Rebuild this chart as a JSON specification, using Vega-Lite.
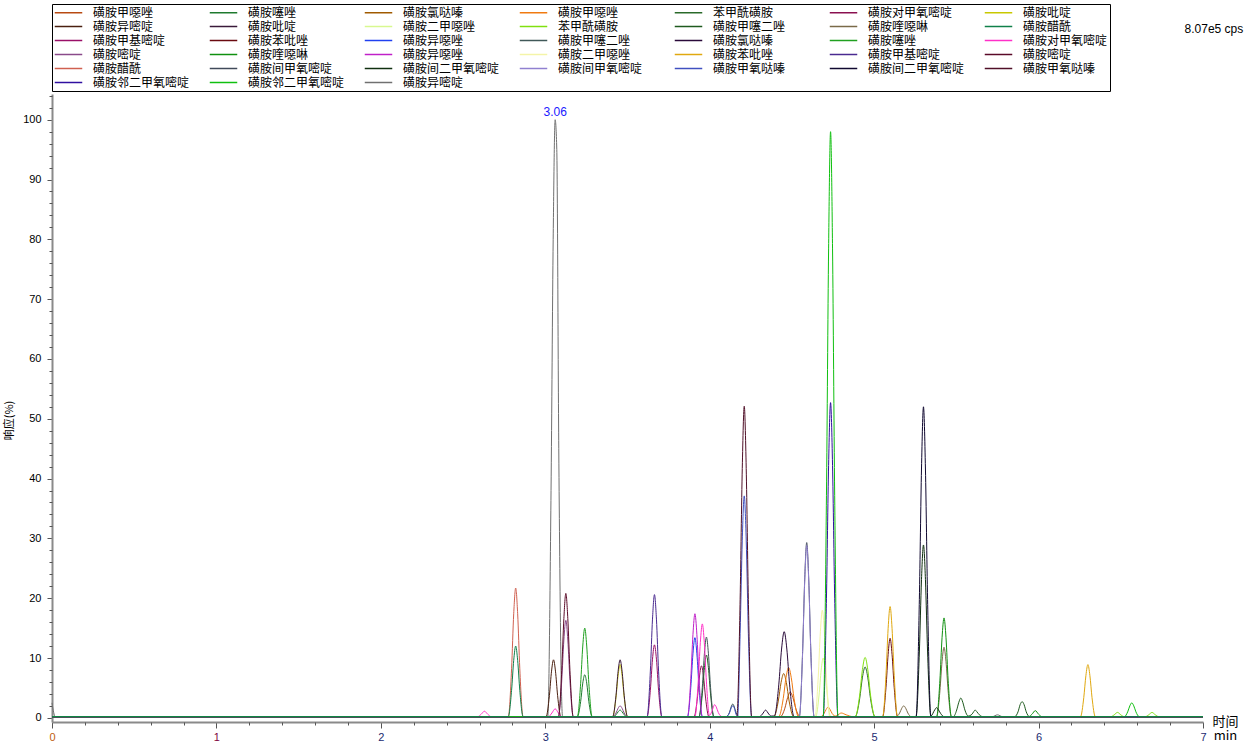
{
"$schema":"https://vega.github.io/schema/vega-lite/v6.json",
"width":1151,"height":628,
"autosize":{"type":"none"},
"padding":{"left":52,"top":94,"right":47,"bottom":25},
"background":"white",
"config":{"view":{"stroke":null},"font":"Liberation Sans"},
"resolve":{"axis":{"x":"independent","y":"independent"}},
"layer":[
{"data":{"values":[
{"s":"38","t":0,"v":2.5},{"s":"38","t":0.02,"v":0.2},{"s":"38","t":3.015,"v":0.2},{"s":"38","t":3.035,"v":38},{"s":"38","t":3.048,"v":80},{"s":"38","t":3.06,"v":100},{"s":"38","t":3.07,"v":95},{"s":"38","t":3.082,"v":45},{"s":"38","t":3.105,"v":0.2},{"s":"38","t":5.72,"v":0.2},{"s":"38","t":5.75,"v":0.5},{"s":"38","t":5.78,"v":0.2},{"s":"38","t":7,"v":0.2},
{"s":"01","t":0,"v":0.2},{"s":"01","t":4.43,"v":0.2},{"s":"01","t":4.457,"v":1.6},{"s":"01","t":4.474,"v":3.4},{"s":"01","t":4.49,"v":4.3},{"s":"01","t":4.506,"v":3.4},{"s":"01","t":4.523,"v":1.6},{"s":"01","t":4.55,"v":0.2},{"s":"01","t":7,"v":0.2},
{"s":"02","t":0,"v":0.2},{"s":"02","t":3.195,"v":0.2},{"s":"02","t":3.215,"v":2.7},{"s":"02","t":3.228,"v":5.8},{"s":"02","t":3.24,"v":7.2},{"s":"02","t":3.252,"v":5.8},{"s":"02","t":3.265,"v":2.7},{"s":"02","t":3.285,"v":0.2},{"s":"02","t":3.41,"v":0.2},{"s":"02","t":3.43,"v":0.5},{"s":"02","t":3.443,"v":1.0},{"s":"02","t":3.455,"v":1.3},{"s":"02","t":3.467,"v":1.0},{"s":"02","t":3.48,"v":0.5},{"s":"02","t":3.5,"v":0.2},{"s":"02","t":7,"v":0.2},
{"s":"03","t":0,"v":0.2},{"s":"03","t":4.39,"v":0.2},{"s":"03","t":4.417,"v":2.8},{"s":"03","t":4.434,"v":5.9},{"s":"03","t":4.45,"v":7.4},{"s":"03","t":4.466,"v":5.9},{"s":"03","t":4.483,"v":2.8},{"s":"03","t":4.51,"v":0.2},{"s":"03","t":7,"v":0.2},
{"s":"04","t":0,"v":0.2},{"s":"04","t":4.42,"v":0.2},{"s":"04","t":4.447,"v":3.2},{"s":"04","t":4.464,"v":6.7},{"s":"04","t":4.48,"v":8.4},{"s":"04","t":4.496,"v":6.7},{"s":"04","t":4.513,"v":3.2},{"s":"04","t":4.54,"v":0.2},{"s":"04","t":4.675,"v":0.2},{"s":"04","t":4.695,"v":0.7},{"s":"04","t":4.708,"v":1.4},{"s":"04","t":4.72,"v":1.8},{"s":"04","t":4.732,"v":1.4},{"s":"04","t":4.745,"v":0.7},{"s":"04","t":4.765,"v":0.3},{"s":"04","t":4.78,"v":0.5},{"s":"04","t":4.8,"v":0.8},{"s":"04","t":4.83,"v":0.5},{"s":"04","t":4.87,"v":0.2},{"s":"04","t":7,"v":0.2},
{"s":"05","t":0,"v":0.2},{"s":"05","t":4.885,"v":0.2},{"s":"05","t":4.912,"v":3.2},{"s":"05","t":4.929,"v":6.8},{"s":"05","t":4.945,"v":8.5},{"s":"05","t":4.961,"v":6.8},{"s":"05","t":4.978,"v":3.2},{"s":"05","t":5.005,"v":0.2},{"s":"05","t":7,"v":0.2},
{"s":"06","t":0,"v":0.2},{"s":"06","t":3.905,"v":0.2},{"s":"06","t":3.925,"v":3.3},{"s":"06","t":3.938,"v":7.0},{"s":"06","t":3.95,"v":8.7},{"s":"06","t":3.962,"v":7.0},{"s":"06","t":3.975,"v":3.3},{"s":"06","t":3.995,"v":0.2},{"s":"06","t":7,"v":0.2},
{"s":"07","t":0,"v":0.2},{"s":"07","t":3.41,"v":0.2},{"s":"07","t":3.43,"v":3.4},{"s":"07","t":3.443,"v":7.1},{"s":"07","t":3.455,"v":8.9},{"s":"07","t":3.467,"v":7.1},{"s":"07","t":3.48,"v":3.4},{"s":"07","t":3.5,"v":0.2},{"s":"07","t":7,"v":0.2},
{"s":"08","t":0,"v":0.2},{"s":"08","t":3.005,"v":0.2},{"s":"08","t":3.025,"v":3.7},{"s":"08","t":3.038,"v":7.8},{"s":"08","t":3.05,"v":9.7},{"s":"08","t":3.062,"v":7.8},{"s":"08","t":3.075,"v":3.7},{"s":"08","t":3.095,"v":0.2},{"s":"08","t":7,"v":0.2},
{"s":"09","t":0,"v":0.2},{"s":"09","t":3.41,"v":0.2},{"s":"09","t":3.43,"v":3.7},{"s":"09","t":3.443,"v":7.8},{"s":"09","t":3.455,"v":9.7},{"s":"09","t":3.467,"v":7.8},{"s":"09","t":3.48,"v":3.7},{"s":"09","t":3.5,"v":0.2},{"s":"09","t":7,"v":0.2},
{"s":"10","t":0,"v":0.2},{"s":"10","t":4.645,"v":0.2},{"s":"10","t":4.665,"v":3.8},{"s":"10","t":4.678,"v":8.0},{"s":"10","t":4.69,"v":10},{"s":"10","t":4.702,"v":8.0},{"s":"10","t":4.715,"v":3.8},{"s":"10","t":4.735,"v":0.2},{"s":"10","t":7,"v":0.2},
{"s":"11","t":0,"v":0.2},{"s":"11","t":4.885,"v":0.2},{"s":"11","t":4.912,"v":3.8},{"s":"11","t":4.929,"v":8.1},{"s":"11","t":4.945,"v":10.1},{"s":"11","t":4.961,"v":8.1},{"s":"11","t":4.978,"v":3.8},{"s":"11","t":5.005,"v":0.2},{"s":"11","t":6.44,"v":0.2},{"s":"11","t":6.46,"v":0.5},{"s":"11","t":6.48,"v":0.9},{"s":"11","t":6.5,"v":0.5},{"s":"11","t":6.52,"v":0.2},{"s":"11","t":6.65,"v":0.2},{"s":"11","t":6.67,"v":0.5},{"s":"11","t":6.69,"v":0.9},{"s":"11","t":6.71,"v":0.5},{"s":"11","t":6.73,"v":0.2},{"s":"11","t":7,"v":0.2},
{"s":"12","t":0,"v":0.2},{"s":"12","t":3.935,"v":0.2},{"s":"12","t":3.955,"v":4.0},{"s":"12","t":3.968,"v":8.4},{"s":"12","t":3.98,"v":10.5},{"s":"12","t":3.992,"v":8.4},{"s":"12","t":4.005,"v":4.0},{"s":"12","t":4.025,"v":0.2},{"s":"12","t":5.482,"v":0.2},{"s":"12","t":5.502,"v":1.3},{"s":"12","t":5.515,"v":2.6},{"s":"12","t":5.527,"v":3.3},{"s":"12","t":5.539,"v":2.6},{"s":"12","t":5.552,"v":1.3},{"s":"12","t":5.572,"v":0.3},{"s":"12","t":5.595,"v":0.6},{"s":"12","t":5.605,"v":1.0},{"s":"12","t":5.614,"v":1.3},{"s":"12","t":5.625,"v":1.0},{"s":"12","t":5.64,"v":0.5},{"s":"12","t":5.66,"v":0.2},{"s":"12","t":5.855,"v":0.2},{"s":"12","t":5.875,"v":1.0},{"s":"12","t":5.888,"v":2.2},{"s":"12","t":5.9,"v":2.7},{"s":"12","t":5.912,"v":2.2},{"s":"12","t":5.925,"v":1.0},{"s":"12","t":5.945,"v":0.2},{"s":"12","t":7,"v":0.2},
{"s":"13","t":0,"v":0.2},{"s":"13","t":5.135,"v":0.2},{"s":"13","t":5.155,"v":0.8},{"s":"13","t":5.168,"v":1.6},{"s":"13","t":5.18,"v":2.0},{"s":"13","t":5.192,"v":1.6},{"s":"13","t":5.205,"v":0.8},{"s":"13","t":5.225,"v":0.2},{"s":"13","t":5.38,"v":0.2},{"s":"13","t":5.4,"v":4.5},{"s":"13","t":5.413,"v":9.4},{"s":"13","t":5.425,"v":11.8},{"s":"13","t":5.437,"v":9.4},{"s":"13","t":5.45,"v":4.5},{"s":"13","t":5.47,"v":0.2},{"s":"13","t":7,"v":0.2},
{"s":"15","t":0,"v":0.2},{"s":"15","t":3.619,"v":0.2},{"s":"15","t":3.639,"v":4.6},{"s":"15","t":3.652,"v":9.8},{"s":"15","t":3.664,"v":12.2},{"s":"15","t":3.676,"v":9.8},{"s":"15","t":3.689,"v":4.6},{"s":"15","t":3.709,"v":0.2},{"s":"15","t":7,"v":0.2},
{"s":"16","t":0,"v":0.2},{"s":"16","t":5.052,"v":0.2},{"s":"16","t":5.072,"v":5.1},{"s":"16","t":5.085,"v":10.6},{"s":"16","t":5.097,"v":13.3},{"s":"16","t":5.109,"v":10.6},{"s":"16","t":5.122,"v":5.1},{"s":"16","t":5.142,"v":0.2},{"s":"16","t":7,"v":0.2},
{"s":"17","t":0,"v":0.2},{"s":"17","t":3.865,"v":0.2},{"s":"17","t":3.885,"v":5.1},{"s":"17","t":3.898,"v":10.7},{"s":"17","t":3.91,"v":13.4},{"s":"17","t":3.922,"v":10.7},{"s":"17","t":3.935,"v":5.1},{"s":"17","t":3.955,"v":0.2},{"s":"17","t":7,"v":0.2},
{"s":"18","t":0,"v":0.2},{"s":"18","t":3.935,"v":0.2},{"s":"18","t":3.955,"v":5.1},{"s":"18","t":3.968,"v":10.8},{"s":"18","t":3.98,"v":13.5},{"s":"18","t":3.992,"v":10.8},{"s":"18","t":4.005,"v":5.1},{"s":"18","t":4.025,"v":0.2},{"s":"18","t":4.1,"v":0.2},{"s":"18","t":4.12,"v":0.9},{"s":"18","t":4.13,"v":1.8},{"s":"18","t":4.14,"v":2.3},{"s":"18","t":4.15,"v":1.8},{"s":"18","t":4.16,"v":0.9},{"s":"18","t":4.18,"v":0.2},{"s":"18","t":7,"v":0.2},
{"s":"19","t":0,"v":0.2},{"s":"19","t":4.3,"v":0.2},{"s":"19","t":4.32,"v":0.6},{"s":"19","t":4.33,"v":1.0},{"s":"19","t":4.34,"v":1.3},{"s":"19","t":4.35,"v":1.0},{"s":"19","t":4.36,"v":0.6},{"s":"19","t":4.375,"v":0.3},{"s":"19","t":4.393,"v":0.3},{"s":"19","t":4.42,"v":5.5},{"s":"19","t":4.437,"v":11.5},{"s":"19","t":4.453,"v":14.4},{"s":"19","t":4.469,"v":11.5},{"s":"19","t":4.486,"v":5.5},{"s":"19","t":4.513,"v":0.2},{"s":"19","t":7,"v":0.2},
{"s":"20","t":0,"v":0.2},{"s":"20","t":3.195,"v":0.2},{"s":"20","t":3.215,"v":5.7},{"s":"20","t":3.228,"v":12.0},{"s":"20","t":3.24,"v":15.0},{"s":"20","t":3.252,"v":12.0},{"s":"20","t":3.265,"v":5.7},{"s":"20","t":3.285,"v":0.2},{"s":"20","t":7,"v":0.2},
{"s":"21","t":0,"v":0.2},{"s":"21","t":2.59,"v":0.2},{"s":"21","t":2.61,"v":0.6},{"s":"21","t":2.63,"v":1.1},{"s":"21","t":2.65,"v":0.6},{"s":"21","t":2.67,"v":0.2},{"s":"21","t":3.02,"v":0.2},{"s":"21","t":3.04,"v":0.8},{"s":"21","t":3.06,"v":1.5},{"s":"21","t":3.08,"v":0.8},{"s":"21","t":3.1,"v":0.2},{"s":"21","t":3.91,"v":0.2},{"s":"21","t":3.93,"v":6.0},{"s":"21","t":3.943,"v":12.6},{"s":"21","t":3.955,"v":15.7},{"s":"21","t":3.967,"v":12.6},{"s":"21","t":3.98,"v":6.0},{"s":"21","t":3.998,"v":0.4},{"s":"21","t":4.012,"v":1.0},{"s":"21","t":4.022,"v":1.8},{"s":"21","t":4.03,"v":2.2},{"s":"21","t":4.04,"v":1.8},{"s":"21","t":4.052,"v":0.9},{"s":"21","t":4.075,"v":0.2},{"s":"21","t":7,"v":0.2},
{"s":"22","t":0,"v":0.2},{"s":"22","t":3.08,"v":0.2},{"s":"22","t":3.1,"v":6.2},{"s":"22","t":3.113,"v":13.0},{"s":"22","t":3.125,"v":16.3},{"s":"22","t":3.137,"v":13.0},{"s":"22","t":3.15,"v":6.2},{"s":"22","t":3.17,"v":0.2},{"s":"22","t":3.41,"v":0.2},{"s":"22","t":3.43,"v":0.8},{"s":"22","t":3.443,"v":1.6},{"s":"22","t":3.455,"v":2.0},{"s":"22","t":3.467,"v":1.6},{"s":"22","t":3.48,"v":0.8},{"s":"22","t":3.5,"v":0.2},{"s":"22","t":7,"v":0.2},
{"s":"23","t":0,"v":0.2},{"s":"23","t":5.38,"v":0.2},{"s":"23","t":5.4,"v":6.3},{"s":"23","t":5.413,"v":13.4},{"s":"23","t":5.425,"v":16.7},{"s":"23","t":5.437,"v":13.4},{"s":"23","t":5.45,"v":6.3},{"s":"23","t":5.47,"v":0.2},{"s":"23","t":5.94,"v":0.2},{"s":"23","t":5.96,"v":0.6},{"s":"23","t":5.98,"v":1.2},{"s":"23","t":6.0,"v":0.6},{"s":"23","t":6.02,"v":0.2},{"s":"23","t":7,"v":0.2},
{"s":"24","t":0,"v":0.2},{"s":"24","t":3.865,"v":0.2},{"s":"24","t":3.885,"v":6.6},{"s":"24","t":3.898,"v":13.9},{"s":"24","t":3.91,"v":17.4},{"s":"24","t":3.922,"v":13.9},{"s":"24","t":3.935,"v":6.6},{"s":"24","t":3.955,"v":0.2},{"s":"24","t":7,"v":0.2},
{"s":"25","t":0,"v":0.2},{"s":"25","t":4.64,"v":0.2},{"s":"25","t":4.66,"v":6.8},{"s":"25","t":4.673,"v":14.4},{"s":"25","t":4.685,"v":18},{"s":"25","t":4.697,"v":14.4},{"s":"25","t":4.71,"v":6.8},{"s":"25","t":4.73,"v":0.2},{"s":"25","t":7,"v":0.2},
{"s":"26","t":0,"v":0.2},{"s":"26","t":5.052,"v":0.2},{"s":"26","t":5.072,"v":7.1},{"s":"26","t":5.085,"v":14.9},{"s":"26","t":5.097,"v":18.6},{"s":"26","t":5.109,"v":14.9},{"s":"26","t":5.122,"v":7.1},{"s":"26","t":5.142,"v":0.2},{"s":"26","t":6.255,"v":0.2},{"s":"26","t":6.275,"v":3.4},{"s":"26","t":6.288,"v":7.1},{"s":"26","t":6.3,"v":8.9},{"s":"26","t":6.312,"v":7.1},{"s":"26","t":6.325,"v":3.4},{"s":"26","t":6.345,"v":0.2},{"s":"26","t":7,"v":0.2},
{"s":"27","t":0,"v":0.2},{"s":"27","t":3.619,"v":0.2},{"s":"27","t":3.639,"v":7.8},{"s":"27","t":3.652,"v":16.5},{"s":"27","t":3.664,"v":20.6},{"s":"27","t":3.676,"v":16.5},{"s":"27","t":3.689,"v":7.8},{"s":"27","t":3.709,"v":0.2},{"s":"27","t":7,"v":0.2},
{"s":"28","t":0,"v":0.2},{"s":"28","t":3.08,"v":0.2},{"s":"28","t":3.1,"v":7.9},{"s":"28","t":3.113,"v":16.6},{"s":"28","t":3.125,"v":20.8},{"s":"28","t":3.137,"v":16.6},{"s":"28","t":3.15,"v":7.9},{"s":"28","t":3.17,"v":0.2},{"s":"28","t":7,"v":0.2},
{"s":"29","t":0,"v":0.2},{"s":"29","t":2.775,"v":0.2},{"s":"29","t":2.795,"v":8.2},{"s":"29","t":2.808,"v":17.4},{"s":"29","t":2.82,"v":21.7},{"s":"29","t":2.832,"v":17.4},{"s":"29","t":2.845,"v":8.2},{"s":"29","t":2.865,"v":0.2},{"s":"29","t":7,"v":0.2},
{"s":"30","t":0,"v":0.2},{"s":"30","t":4.545,"v":0.2},{"s":"30","t":4.565,"v":11.1},{"s":"30","t":4.578,"v":23.4},{"s":"30","t":4.59,"v":29.3},{"s":"30","t":4.602,"v":23.4},{"s":"30","t":4.615,"v":11.1},{"s":"30","t":4.635,"v":0.2},{"s":"30","t":7,"v":0.2},
{"s":"31","t":0,"v":0.2},{"s":"31","t":5.255,"v":0.2},{"s":"31","t":5.275,"v":11.0},{"s":"31","t":5.288,"v":23.1},{"s":"31","t":5.3,"v":28.9},{"s":"31","t":5.312,"v":23.1},{"s":"31","t":5.325,"v":11.0},{"s":"31","t":5.345,"v":0.3},{"s":"31","t":5.368,"v":1.3},{"s":"31","t":5.38,"v":1.7},{"s":"31","t":5.392,"v":1.3},{"s":"31","t":5.405,"v":0.7},{"s":"31","t":5.425,"v":0.2},{"s":"31","t":7,"v":0.2},
{"s":"32","t":0,"v":0.2},{"s":"32","t":4.545,"v":0.2},{"s":"32","t":4.565,"v":10.9},{"s":"32","t":4.578,"v":23.0},{"s":"32","t":4.59,"v":28.8},{"s":"32","t":4.602,"v":23.0},{"s":"32","t":4.615,"v":10.9},{"s":"32","t":4.635,"v":0.2},{"s":"32","t":7,"v":0.2},
{"s":"33","t":0,"v":0.2},{"s":"33","t":4.1,"v":0.2},{"s":"33","t":4.12,"v":0.8},{"s":"33","t":4.13,"v":1.6},{"s":"33","t":4.14,"v":2.0},{"s":"33","t":4.15,"v":1.6},{"s":"33","t":4.16,"v":0.6},{"s":"33","t":4.17,"v":0.3},{"s":"33","t":4.185,"v":14.1},{"s":"33","t":4.198,"v":29.7},{"s":"33","t":4.21,"v":37.1},{"s":"33","t":4.222,"v":29.7},{"s":"33","t":4.235,"v":14.1},{"s":"33","t":4.255,"v":0.2},{"s":"33","t":7,"v":0.2},
{"s":"34","t":0,"v":0.2},{"s":"34","t":5.255,"v":0.2},{"s":"34","t":5.275,"v":19.8},{"s":"34","t":5.288,"v":41.6},{"s":"34","t":5.3,"v":52},{"s":"34","t":5.312,"v":41.6},{"s":"34","t":5.325,"v":19.8},{"s":"34","t":5.345,"v":0.2},{"s":"34","t":7,"v":0.2},
{"s":"35","t":0,"v":0.2},{"s":"35","t":4.165,"v":0.2},{"s":"35","t":4.185,"v":19.8},{"s":"35","t":4.198,"v":41.7},{"s":"35","t":4.21,"v":52.1},{"s":"35","t":4.222,"v":41.7},{"s":"35","t":4.235,"v":19.8},{"s":"35","t":4.255,"v":0.2},{"s":"35","t":7,"v":0.2},
{"s":"36","t":0,"v":0.2},{"s":"36","t":4.69,"v":0.2},{"s":"36","t":4.71,"v":20.0},{"s":"36","t":4.723,"v":42.2},{"s":"36","t":4.735,"v":52.7},{"s":"36","t":4.747,"v":42.2},{"s":"36","t":4.76,"v":20.0},{"s":"36","t":4.78,"v":0.2},{"s":"36","t":7,"v":0.2},
{"s":"37","t":0,"v":0.2},{"s":"37","t":4.69,"v":0.2},{"s":"37","t":4.71,"v":37.2},{"s":"37","t":4.723,"v":78.4},{"s":"37","t":4.735,"v":98},{"s":"37","t":4.747,"v":78.4},{"s":"37","t":4.76,"v":37.2},{"s":"37","t":4.78,"v":0.2},{"s":"37","t":6.522,"v":0.2},{"s":"37","t":6.542,"v":1.0},{"s":"37","t":6.555,"v":2.0},{"s":"37","t":6.567,"v":2.5},{"s":"37","t":6.579,"v":2.0},{"s":"37","t":6.592,"v":1.0},{"s":"37","t":6.612,"v":0.2},{"s":"37","t":7,"v":0.2},
{"s":"14","t":0,"v":0.2},{"s":"14","t":2.775,"v":0.2},{"s":"14","t":2.795,"v":4.6},{"s":"14","t":2.808,"v":9.6},{"s":"14","t":2.82,"v":12.0},{"s":"14","t":2.832,"v":9.6},{"s":"14","t":2.845,"v":4.6},{"s":"14","t":2.865,"v":0.2},{"s":"14","t":7,"v":0.2}
]},
"mark":{"type":"line","strokeWidth":1,"interpolate":"monotone"},
"encoding":{
"x":{"field":"t","type":"quantitative","scale":{"domain":[0,7],"nice":false,"zero":false},
"axis":{"orient":"bottom","values":[0,1,2,3,4,5,6,7],"format":"d","labelOverlap":false,"labelBound":false,"tickSize":6,
"labelColor":{"condition":[{"test":"datum.value === 0","value":"#c06010"},{"test":"datum.value === 1","value":"#800040"}],"value":"#1a2a70"},
"grid":false,"domainColor":"#8a8a8a","domainWidth":2,"tickColor":"#555555","labelFontSize":11,"labelPadding":3,"labelFlush":false,
"title":["时间","min"],"titleFont":"Noto Sans CJK SC","titleFontSize":13,"titleFontWeight":"normal","titleColor":"#000","titleX":1173,"titleY":-7,"titleBaseline":"top","titleAlign":"center","titleLineHeight":14}},
"y":{"field":"v","type":"quantitative","scale":{"domain":[-0.7,104.3],"nice":false,"zero":false},
"axis":{"orient":"left","values":[0,10,20,30,40,50,60,70,80,90,100],"format":"d","labelOverlap":false,"labelBound":false,"tickSize":5,
"grid":false,"domainColor":"#8a8a8a","domainWidth":2,"tickColor":"#555555","labelFontSize":11,"labelPadding":6,"labelColor":"#000",
"title":"响应(%)","titleFont":"Noto Sans CJK SC","titleFontSize":11,"titleFontWeight":"normal","titleColor":"#000","titleX":-38,"titleY":326}},
"color":{"field":"s","type":"nominal",
"scale":{"domain":["01","02","03","04","05","06","07","08","09","10","11","12","13","14","15","16","17","18","19","20","21","22","23","24","25","26","27","28","29","30","31","32","33","34","35","36","37","38"],
"range":["#B84A12","#1E7A2E","#A05A00","#F07A10","#2A6A2A","#8A1050","#C8C800","#4A2010","#3A1A3A","#D8F890","#80E010","#1E5A1E","#7A6A48","#10804A","#9A1068","#6A0A10","#2040F0","#405858","#2A0A3A","#20A020","#FF30C8","#8A4A8A","#109010","#C020C8","#F4F4A8","#E0A810","#4A2A90","#5A0A28","#D06050","#404A5A","#103010","#9080D0","#4050C0","#100830","#501028","#3010A0","#10C010","#707070"]},
"legend":{"orient":"none","legendX":0,"legendY":-90,"direction":"horizontal","columns":7,"gridAlign":"all","title":null,"symbolLimit":100,
"symbolType":"M-2.5,0H2.5","symbolSize":121,"symbolStrokeWidth":1.5,"symbolOffset":8,
"labelFont":"Noto Sans CJK SC","labelFontSize":12,"labelColor":"#000","labelOffset":18,"labelLimit":300,"columnPadding":16,"rowPadding":1,"padding":2,"strokeColor":"#000","fillColor":"#fff",
"labelExpr":"['磺胺甲噁唑','磺胺噻唑','磺胺氯哒嗪','磺胺甲噁唑','苯甲酰磺胺','磺胺对甲氧嘧啶','磺胺吡啶','磺胺异嘧啶','磺胺吡啶','磺胺二甲噁唑','苯甲酰磺胺','磺胺甲噻二唑','磺胺喹噁啉','磺胺醋酰','磺胺甲基嘧啶','磺胺苯吡唑','磺胺异噁唑','磺胺甲噻二唑','磺胺氯哒嗪','磺胺噻唑','磺胺对甲氧嘧啶','磺胺嘧啶','磺胺喹噁啉','磺胺异噁唑','磺胺二甲噁唑','磺胺苯吡唑','磺胺甲基嘧啶','磺胺嘧啶','磺胺醋酰','磺胺间甲氧嘧啶','磺胺间二甲氧嘧啶','磺胺间甲氧嘧啶','磺胺甲氧哒嗪','磺胺间二甲氧嘧啶','磺胺甲氧哒嗪','磺胺邻二甲氧嘧啶','磺胺邻二甲氧嘧啶','磺胺异嘧啶'][toNumber(datum.label)-1]"}}
}},
{"data":{"values":[{"t":3.06,"v":100,"label":"3.06"}]},
"mark":{"type":"text","fontSize":12,"baseline":"bottom","dy":-1,"color":"#1a1aff","font":"Liberation Sans"},
"encoding":{
"x":{"field":"t","type":"quantitative","axis":{"orient":"bottom","values":[0.2,0.4,0.6,0.8,1.2,1.4,1.6,1.8,2.2,2.4,2.6,2.8,3.2,3.4,3.6,3.8,4.2,4.4,4.6,4.8,5.2,5.4,5.6,5.8,6.2,6.4,6.6,6.8],"labels":false,"domain":false,"grid":false,"tickSize":3,"tickColor":"#555555","title":null}},
"y":{"field":"v","type":"quantitative","axis":{"orient":"left","values":[2,4,6,8,12,14,16,18,22,24,26,28,32,34,36,38,42,44,46,48,52,54,56,58,62,64,66,68,72,74,76,78,82,84,86,88,92,94,96,98,102,104],"labels":false,"domain":false,"grid":false,"tickSize":3,"tickColor":"#555555","title":null}},
"text":{"field":"label"}}},
{"data":{"values":[{"t":7.245,"v":115.2,"label":"8.07e5 cps"}]},
"mark":{"type":"text","fontSize":12,"baseline":"middle","align":"right","color":"#000","font":"Liberation Sans"},
"encoding":{"x":{"field":"t","type":"quantitative","axis":null},"y":{"field":"v","type":"quantitative","axis":null},"text":{"field":"label"}}}
]
}
